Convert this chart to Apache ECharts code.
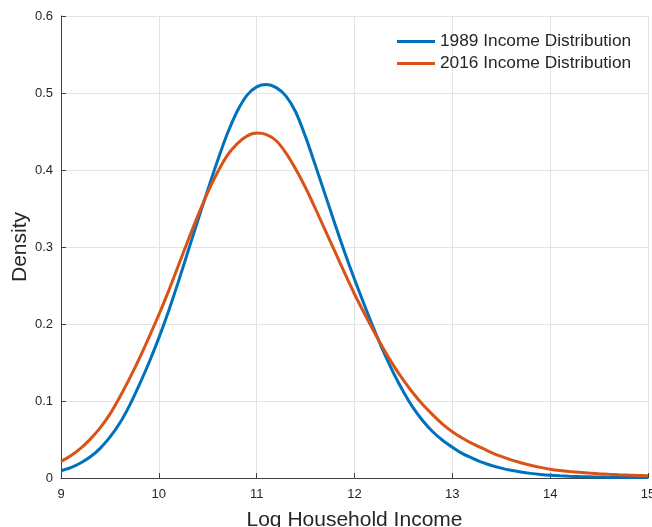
<!DOCTYPE html>
<html>
<head>
<meta charset="utf-8">
<script src="https://cdn.jsdelivr.net/npm/echarts@6/dist/echarts.min.js"></script>
<style>
html,body{margin:0;padding:0;background:#fff;}
#chart{width:652px;height:527px;}
</style>
</head>
<body>
<div id="chart"></div>
<script>
// Log household income (x) sample points, 9.0 to 15.0
var xs = [9.0, 9.1, 9.2, 9.3, 9.4, 9.5, 9.6, 9.7, 9.8, 9.9,
          10.0, 10.1, 10.2, 10.3, 10.4, 10.5, 10.6, 10.7, 10.8, 10.9,
          11.0, 11.1, 11.2, 11.3, 11.4, 11.5, 11.6, 11.7, 11.8, 11.9,
          12.0, 12.1, 12.2, 12.3, 12.4, 12.5, 12.6, 12.7, 12.8, 12.9,
          13.0, 13.1, 13.2, 13.3, 13.4, 13.5, 13.6, 13.7, 13.8, 13.9,
          14.0, 14.1, 14.2, 14.3, 14.4, 14.5, 14.6, 14.7, 14.8, 14.9, 15.0];
// Density, 1989 income distribution
var density1989 = [0.0095, 0.0135, 0.0195, 0.0275, 0.0385, 0.053, 0.071, 0.094, 0.121, 0.150,
                   0.182, 0.217, 0.255, 0.295, 0.335, 0.374, 0.412, 0.447, 0.476, 0.497,
                   0.508, 0.511, 0.507, 0.496, 0.475, 0.443, 0.406, 0.368, 0.330, 0.293,
                   0.258, 0.225, 0.193, 0.163, 0.136, 0.112, 0.091, 0.074, 0.060, 0.049,
                   0.040, 0.032, 0.026, 0.0205, 0.0162, 0.0128, 0.0100, 0.0078, 0.006, 0.0046,
                   0.0035, 0.0028, 0.0023, 0.0019, 0.0016, 0.0013, 0.0011, 0.0009, 0.0008, 0.0007, 0.0006];
// Density, 2016 income distribution
var density2016 = [0.0216, 0.029, 0.0385, 0.0505, 0.065, 0.083, 0.105, 0.129, 0.155, 0.183,
                   0.212, 0.243, 0.276, 0.309, 0.341, 0.371, 0.397, 0.419, 0.434, 0.444,
                   0.448, 0.446, 0.438, 0.422, 0.401, 0.377, 0.350, 0.322, 0.294, 0.266,
                   0.239, 0.214, 0.190, 0.167, 0.146, 0.127, 0.110, 0.095, 0.082, 0.070,
                   0.060, 0.052, 0.045, 0.039, 0.033, 0.028, 0.0235, 0.0198, 0.0166, 0.0138,
                   0.0115, 0.0098, 0.0085, 0.0074, 0.0064, 0.0056, 0.0049, 0.0043, 0.0038, 0.0034, 0.003];
var seriesNames = ['1989 Income Distribution', '2016 Income Distribution'];
var xTicks = [9, 10, 11, 12, 13, 14, 15];
var yTicks = [0, 0.1, 0.2, 0.3, 0.4, 0.5, 0.6];

function pairs(ys) { return xs.map(function (x, i) { return [x, ys[i]]; }); }

var font = '"Liberation Sans", Arial, Helvetica, sans-serif';
var chart = echarts.init(document.getElementById('chart'), null, {renderer: 'canvas'});
chart.setOption({
  animation: false,
  backgroundColor: '#ffffff',
  textStyle: {fontFamily: font},
  grid: {left: 61, right: 4, top: 16, bottom: 49, containLabel: false, outerBoundsMode: 'none'},
  legend: {
    orient: 'vertical',
    left: 397,
    top: 33,
    padding: 0,
    itemWidth: 38,
    itemHeight: 3,
    itemGap: 5,
    icon: 'rect',
    textStyle: {fontSize: 17.3, color: '#262626', fontFamily: font},
    data: seriesNames
  },
  xAxis: {
    type: 'value',
    min: xTicks[0],
    max: xTicks[xTicks.length - 1],
    interval: 1,
    name: 'Log Household Income',
    nameLocation: 'middle',
    nameGap: 32,
    nameMoveOverlap: false,
    nameTextStyle: {fontSize: 21, color: '#262626', fontFamily: font},
    axisLine: {show: true, lineStyle: {color: '#404040', width: 1}},
    axisTick: {show: true, inside: true, length: 5, lineStyle: {color: '#404040'}},
    axisLabel: {fontSize: 13, color: '#262626', margin: 10, fontFamily: font},
    splitLine: {show: true, lineStyle: {color: '#e3e3e3', width: 1}}
  },
  yAxis: {
    type: 'value',
    min: yTicks[0],
    max: yTicks[yTicks.length - 1],
    interval: 0.1,
    name: 'Density',
    nameLocation: 'middle',
    nameGap: 30,
    nameMoveOverlap: false,
    nameTextStyle: {fontSize: 21, color: '#262626', fontFamily: font},
    axisLine: {show: true, lineStyle: {color: '#404040', width: 1}},
    axisTick: {show: true, inside: true, length: 5, lineStyle: {color: '#404040'}},
    axisLabel: {fontSize: 13, color: '#262626', margin: 8, fontFamily: font},
    splitLine: {show: true, lineStyle: {color: '#e3e3e3', width: 1}}
  },
  series: [
    {
      name: seriesNames[0],
      type: 'line',
      data: pairs(density1989),
      smooth: 0.3,
      showSymbol: false,
      symbol: 'none',
      itemStyle: {color: '#0072BD'},
      lineStyle: {color: '#0072BD', width: 3}
    },
    {
      name: seriesNames[1],
      type: 'line',
      data: pairs(density2016),
      smooth: 0.3,
      showSymbol: false,
      symbol: 'none',
      itemStyle: {color: '#D95319'},
      lineStyle: {color: '#D95319', width: 3}
    }
  ]
});
</script>
</body>
</html>
